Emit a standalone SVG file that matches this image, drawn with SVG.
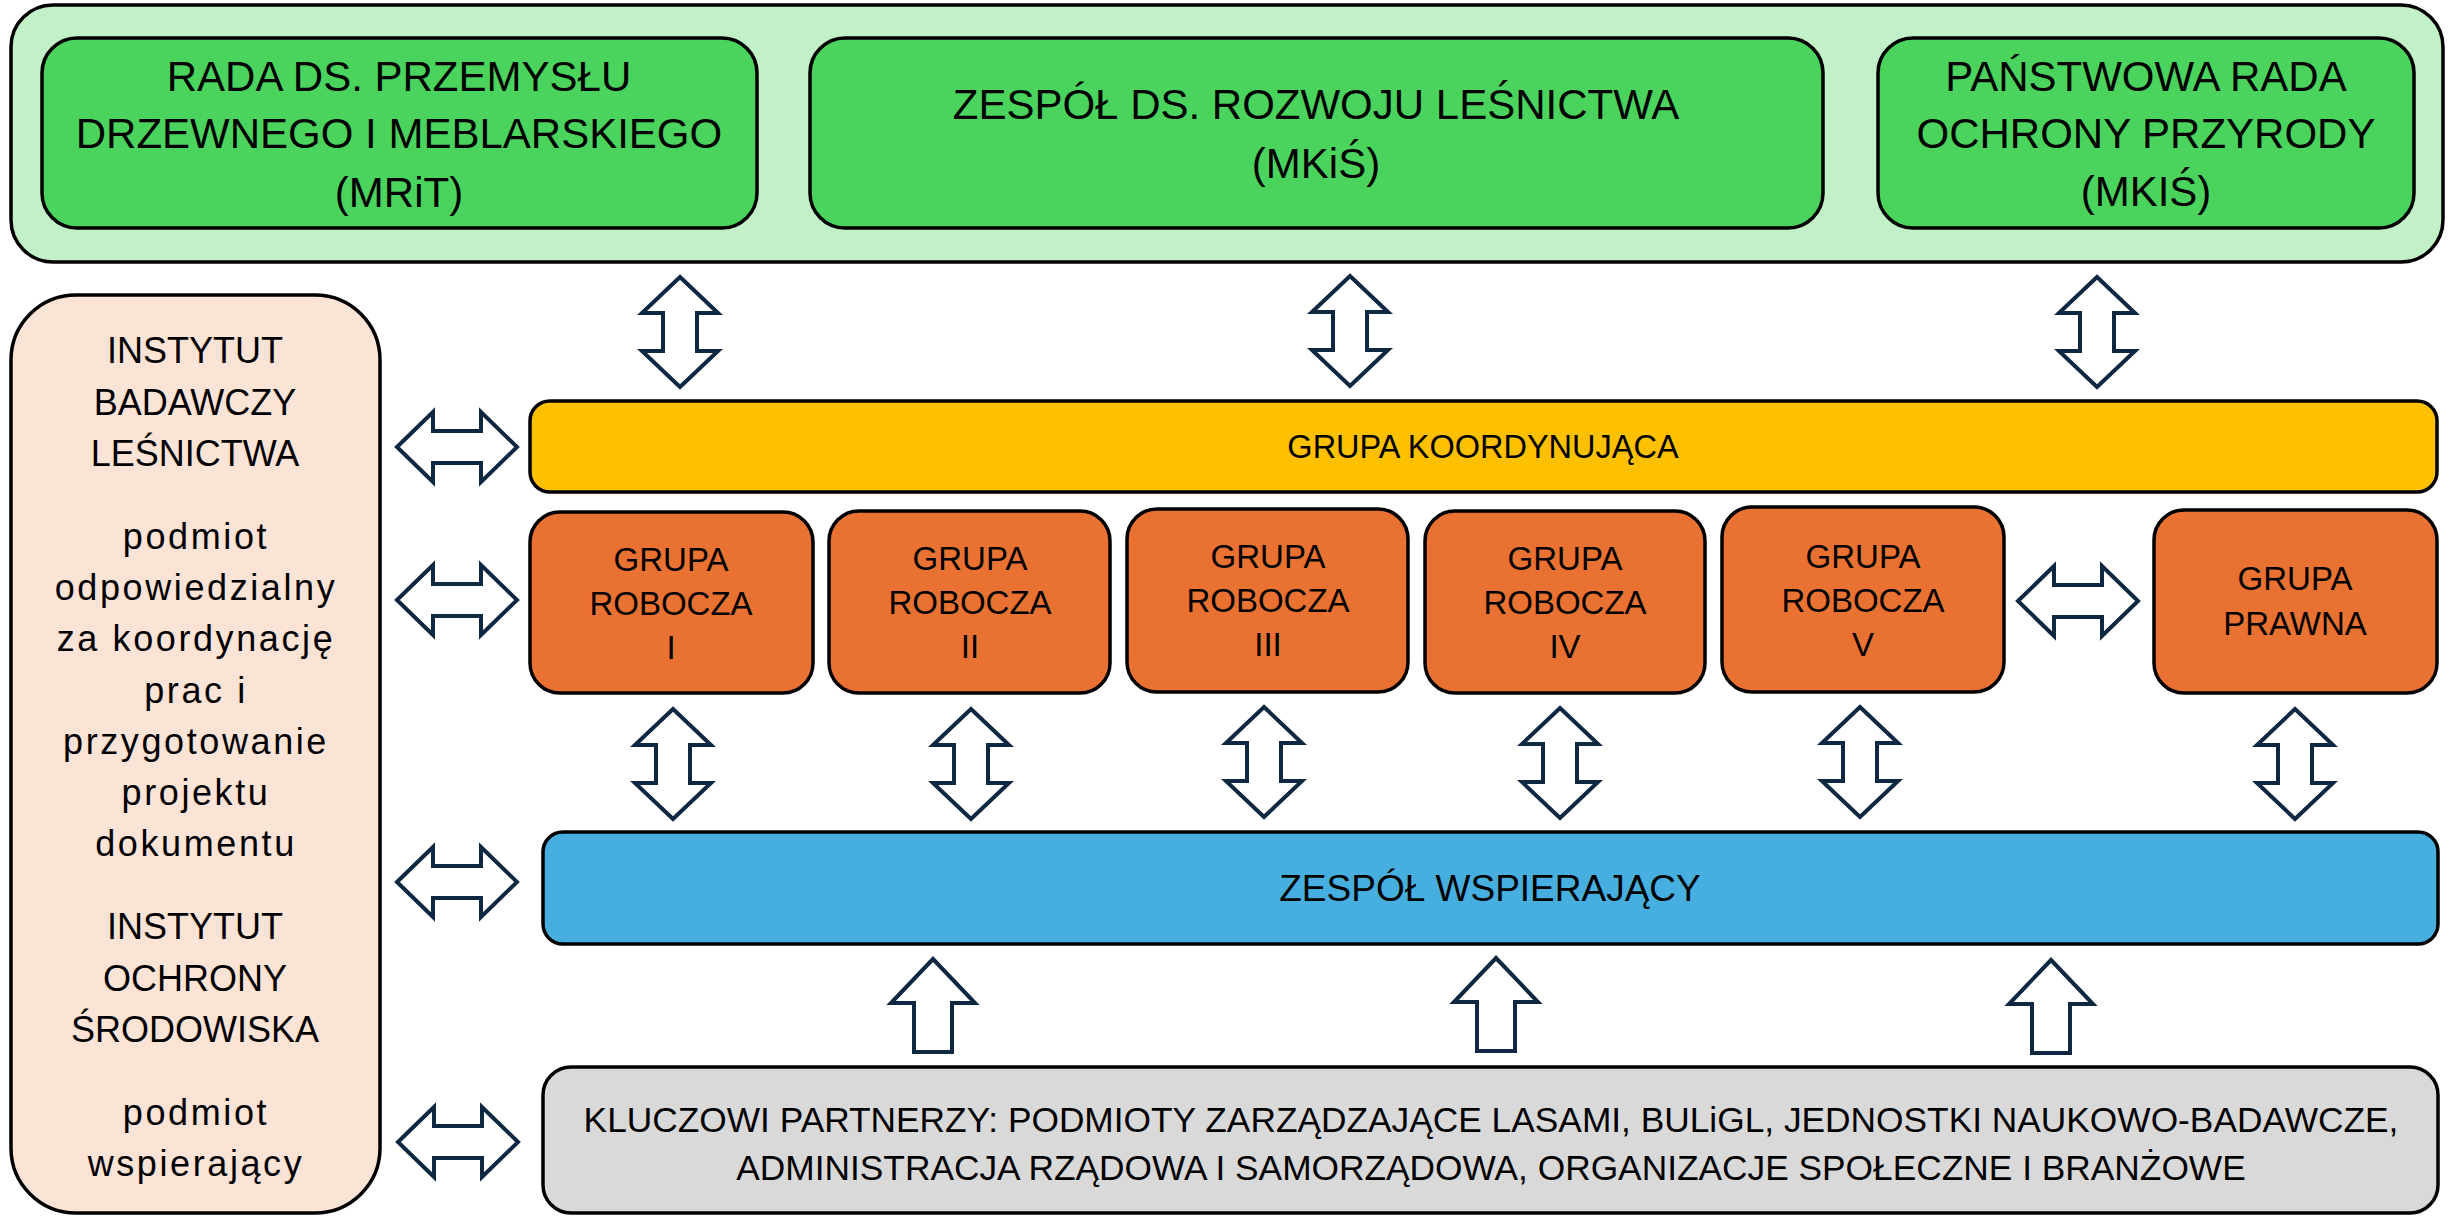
<svg xmlns="http://www.w3.org/2000/svg" xmlns:xlink="http://www.w3.org/1999/xlink" width="2458" height="1217" viewBox="0 0 2458 1217">
<style>
  text { font-family: "Liberation Sans", Arial, sans-serif; fill: #000; text-anchor: middle; }
  .box { stroke: #000; stroke-width: 3.5; }
  .outer { fill: #C2F0C9; }
  .green { fill: #4AD45E; }
  .pink { fill: #FBE3D6; }
  .yellow { fill: #FFC000; }
  .orange { fill: #E97233; }
  .blue { fill: #47AFDF; }
  .gray { fill: #D9D9D9; }
  .t42 { font-size: 42px; }
  .t36 { font-size: 36px; }
  .low { font-size: 36px; letter-spacing: 2.6px; }
  .t33 { font-size: 33px; }
  .arr { fill: #FFFFFF; stroke: #0E2841; stroke-width: 4; stroke-linejoin: miter; }
</style>
<defs>
  <path id="hdbl" d="M-60,0 L-24,-35 L-24,-16 L24,-16 L24,-35 L60,0 L24,35 L24,16 L-24,16 L-24,35 Z"/>
  <path id="vdbl" d="M0,-55 L38,-19 L17,-19 L17,19 L38,19 L0,55 L-38,19 L-17,19 L-17,-19 L-38,-19 Z"/>
  <path id="up" d="M0,0 L42,44 L19,44 L19,93 L-19,93 L-19,44 L-42,44 Z"/>
</defs>

<g id="ministry-container">
  <rect class="box outer" x="11" y="5" width="2432" height="257" rx="42" ry="42"/>
</g>
<g id="rada-przemyslu">
  <rect class="box green" x="42" y="38" width="715" height="190" rx="35" ry="35"/>
  <text class="t42" x="399" y="91">RADA DS. PRZEMYSŁU</text>
  <text class="t42" x="399" y="148">DRZEWNEGO I MEBLARSKIEGO</text>
  <text class="t42" x="399" y="207">(MRiT)</text>
</g>
<g id="zespol-lesnictwa">
  <rect class="box green" x="810" y="38" width="1013" height="190" rx="35" ry="35"/>
  <text class="t42" x="1316" y="119">ZESPÓŁ DS. ROZWOJU LEŚNICTWA</text>
  <text class="t42" x="1316" y="178">(MKiŚ)</text>
</g>
<g id="rada-ochrony">
  <rect class="box green" x="1878" y="38" width="536" height="190" rx="35" ry="35"/>
  <text class="t42" x="2146" y="91">PAŃSTWOWA RADA</text>
  <text class="t42" x="2146" y="148">OCHRONY PRZYRODY</text>
  <text class="t42" x="2146" y="206">(MKIŚ)</text>
</g>

<g id="instytuty">
  <rect class="box pink" x="11" y="295" width="369" height="918" rx="65" ry="65"/>
  <text class="t36" x="195" y="363">INSTYTUT</text>
  <text class="t36" x="195" y="415">BADAWCZY</text>
  <text class="t36" x="195" y="466">LEŚNICTWA</text>
  <text class="low" x="196" y="549">podmiot</text>
  <text class="low" x="196" y="600">odpowiedzialny</text>
  <text class="low" x="196" y="651">za koordynację</text>
  <text class="low" x="196" y="703">prac i</text>
  <text class="low" x="196" y="754">przygotowanie</text>
  <text class="low" x="196" y="805">projektu</text>
  <text class="low" x="196" y="856">dokumentu</text>
  <text class="t36" x="195" y="939">INSTYTUT</text>
  <text class="t36" x="195" y="991">OCHRONY</text>
  <text class="t36" x="195" y="1042">ŚRODOWISKA</text>
  <text class="low" x="196" y="1125">podmiot</text>
  <text class="low" x="196" y="1176">wspierający</text>
</g>

<g id="grupa-koordynujaca">
  <rect class="box yellow" x="530" y="401" width="1907" height="91" rx="20" ry="20"/>
  <text x="1483" y="458" style="font-size:32.5px">GRUPA KOORDYNUJĄCA</text>
</g>

<g id="grupa-robocza-1">
  <rect class="box orange" x="530" y="512" width="283" height="181" rx="30" ry="30"/>
  <text class="t33" x="671" y="571">GRUPA</text>
  <text class="t33" x="671" y="615">ROBOCZA</text>
  <text class="t33" x="671" y="659">I</text>
</g>
<g id="grupa-robocza-2">
  <rect class="box orange" x="829" y="511" width="281" height="182" rx="30" ry="30"/>
  <text class="t33" x="970" y="570">GRUPA</text>
  <text class="t33" x="970" y="614">ROBOCZA</text>
  <text class="t33" x="970" y="658">II</text>
</g>
<g id="grupa-robocza-3">
  <rect class="box orange" x="1127" y="509" width="281" height="183" rx="30" ry="30"/>
  <text class="t33" x="1268" y="568">GRUPA</text>
  <text class="t33" x="1268" y="612">ROBOCZA</text>
  <text class="t33" x="1268" y="656">III</text>
</g>
<g id="grupa-robocza-4">
  <rect class="box orange" x="1425" y="511" width="280" height="182" rx="30" ry="30"/>
  <text class="t33" x="1565" y="570">GRUPA</text>
  <text class="t33" x="1565" y="614">ROBOCZA</text>
  <text class="t33" x="1565" y="658">IV</text>
</g>
<g id="grupa-robocza-5">
  <rect class="box orange" x="1722" y="507" width="282" height="185" rx="30" ry="30"/>
  <text class="t33" x="1863" y="568">GRUPA</text>
  <text class="t33" x="1863" y="612">ROBOCZA</text>
  <text class="t33" x="1863" y="656">V</text>
</g>
<g id="grupa-prawna">
  <rect class="box orange" x="2154" y="510" width="283" height="183" rx="30" ry="30"/>
  <text class="t33" x="2295" y="590">GRUPA</text>
  <text class="t33" x="2295" y="635">PRAWNA</text>
</g>

<g id="zespol-wspierajacy">
  <rect class="box blue" x="543" y="832" width="1895" height="112" rx="20" ry="20"/>
  <text x="1490" y="901" style="font-size:37px">ZESPÓŁ WSPIERAJĄCY</text>
</g>

<g id="kluczowi-partnerzy">
  <rect class="box gray" x="543" y="1067" width="1895" height="146" rx="28" ry="28"/>
  <text x="1491" y="1132" style="font-size:35.3px">KLUCZOWI PARTNERZY: PODMIOTY ZARZĄDZAJĄCE LASAMI, BULiGL, JEDNOSTKI NAUKOWO-BADAWCZE,</text>
  <text x="1491" y="1180" style="font-size:35.3px">ADMINISTRACJA RZĄDOWA I SAMORZĄDOWA, ORGANIZACJE SPOŁECZNE I BRANŻOWE</text>
</g>

<g id="connectors" class="arr">
  <use xlink:href="#vdbl" href="#vdbl" x="680" y="332"/>
  <use xlink:href="#vdbl" href="#vdbl" x="1350" y="331"/>
  <use xlink:href="#vdbl" href="#vdbl" x="2097" y="332"/>

  <use xlink:href="#hdbl" href="#hdbl" x="457" y="447"/>
  <use xlink:href="#hdbl" href="#hdbl" x="457" y="600"/>
  <use xlink:href="#hdbl" href="#hdbl" x="457" y="882"/>
  <use xlink:href="#hdbl" href="#hdbl" x="458" y="1142"/>
  <use xlink:href="#hdbl" href="#hdbl" x="2078" y="601"/>

  <use xlink:href="#vdbl" href="#vdbl" x="673" y="764"/>
  <use xlink:href="#vdbl" href="#vdbl" x="971" y="764"/>
  <use xlink:href="#vdbl" href="#vdbl" x="1264" y="762"/>
  <use xlink:href="#vdbl" href="#vdbl" x="1560" y="763"/>
  <use xlink:href="#vdbl" href="#vdbl" x="1860" y="762"/>
  <use xlink:href="#vdbl" href="#vdbl" x="2295" y="764"/>

  <use xlink:href="#up" href="#up" x="933" y="959"/>
  <use xlink:href="#up" href="#up" x="1496" y="958"/>
  <use xlink:href="#up" href="#up" x="2051" y="960"/>
</g>
</svg>
